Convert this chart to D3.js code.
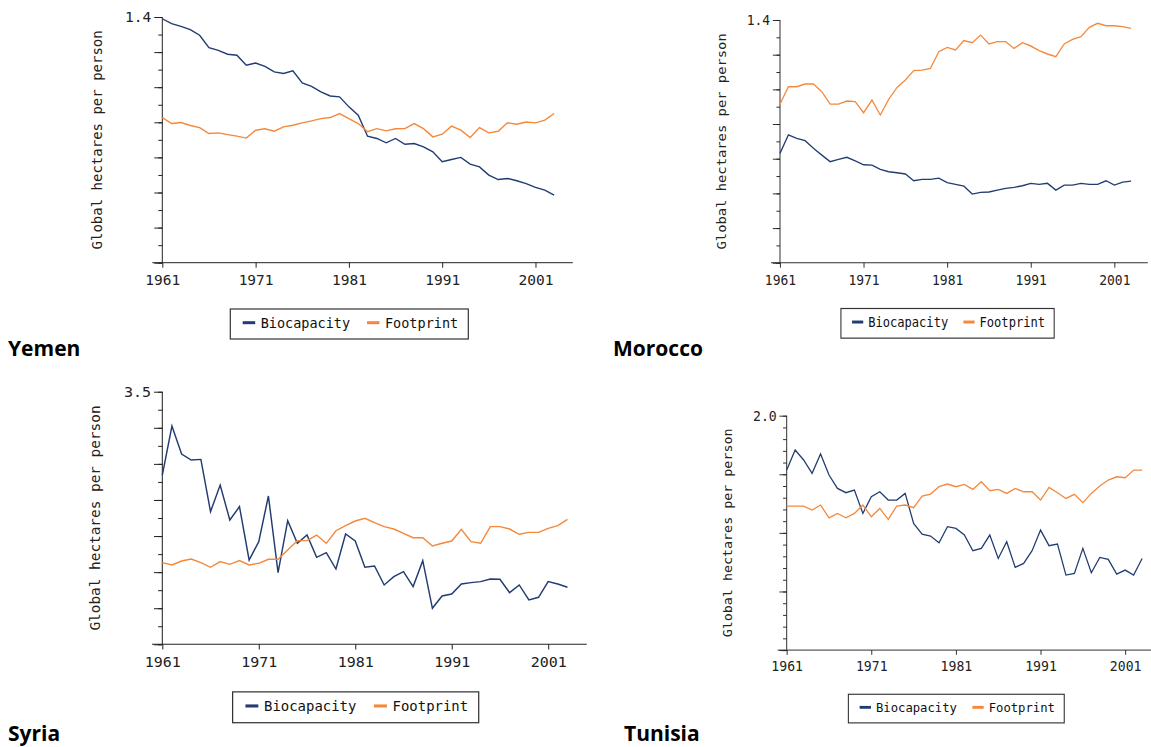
<!DOCTYPE html>
<html>
<head>
<meta charset="utf-8">
<script src="https://cdn.jsdelivr.net/npm/d3@7"></script>
<style>
body { margin: 0; background: #fff; }
</style>
</head>
<body>
<script>

// years on the x axis
var years = [1961,1962,1963,1964,1965,1966,1967,1968,1969,1970,
             1971,1972,1973,1974,1975,1976,1977,1978,1979,1980,
             1981,1982,1983,1984,1985,1986,1987,1988,1989,1990,
             1991,1992,1993,1994,1995,1996,1997,1998,1999,2000,
             2001,2002,2003];
var xTicks = [1961, 1971, 1981, 1991, 2001];

var countries = ["Yemen", "Morocco", "Syria", "Tunisia"];
var yMax = [1.4, 1.4, 3.5, 2.0];
var yLabels = ["1.4", "1.4", "3.5", "2.0"];
var minorStep = [0.1, 0.1, 0.25, 0.1];
var majorStep = [0.2, 0.2, 0.5, 0.5];
var seriesNames = ["Biocapacity", "Footprint"];

// global hectares per person
var yemenBio = [1.39,1.362,1.347,1.328,1.296,1.225,1.21,1.188,1.182,1.125,
                1.138,1.119,1.087,1.078,1.093,1.024,1.005,0.973,0.95,0.945,
                0.888,0.84,0.721,0.708,0.683,0.708,0.675,0.679,0.66,0.632,
                0.575,0.588,0.6,0.562,0.546,0.499,0.474,0.48,0.467,0.451,
                0.429,0.414,0.385];
var yemenFoot = [0.827,0.793,0.799,0.782,0.77,0.736,0.74,0.73,0.721,0.71,
                 0.755,0.763,0.749,0.774,0.783,0.797,0.808,0.821,0.827,0.85,
                 0.821,0.793,0.746,0.764,0.751,0.763,0.764,0.793,0.764,0.717,
                 0.732,0.778,0.755,0.713,0.77,0.74,0.749,0.797,0.789,0.802,
                 0.797,0.812,0.85];

var moroccoBio = [0.631,0.737,0.717,0.704,0.66,0.621,0.583,0.596,0.608,0.587,
                  0.565,0.563,0.538,0.525,0.519,0.512,0.473,0.481,0.481,0.488,
                  0.462,0.452,0.442,0.396,0.406,0.408,0.419,0.429,0.435,0.444,
                  0.458,0.452,0.458,0.419,0.448,0.448,0.458,0.452,0.452,0.473,
                  0.448,0.465,0.471];
var moroccoFoot = [0.915,1.015,1.015,1.031,1.031,0.987,0.915,0.915,0.933,0.929,
                   0.865,0.938,0.852,0.942,1.011,1.054,1.108,1.111,1.121,1.217,
                   1.242,1.227,1.281,1.269,1.313,1.262,1.275,1.275,1.236,1.269,
                   1.25,1.223,1.204,1.188,1.262,1.288,1.304,1.358,1.381,1.367,
                   1.367,1.362,1.352];

var syriaBio = [2.345,3.024,2.636,2.553,2.562,1.838,2.207,1.722,1.907,1.168,
                1.422,2.055,0.993,1.713,1.399,1.514,1.205,1.27,1.043,1.528,
                1.431,1.067,1.085,0.822,0.937,1.006,0.799,1.159,0.499,0.669,
                0.697,0.836,0.854,0.868,0.905,0.9,0.716,0.822,0.614,0.651,
                0.868,0.836,0.79];
var syriaFoot = [1.131,1.099,1.154,1.182,1.131,1.067,1.145,1.108,1.159,1.099,
                 1.122,1.177,1.177,1.307,1.436,1.436,1.514,1.399,1.574,1.644,
                 1.708,1.745,1.685,1.63,1.597,1.537,1.477,1.477,1.362,1.399,
                 1.431,1.593,1.422,1.399,1.63,1.63,1.597,1.524,1.551,1.551,
                 1.607,1.644,1.731];

var tunisiaBio = [1.536,1.707,1.622,1.508,1.673,1.494,1.38,1.343,1.366,1.166,
                  1.309,1.351,1.28,1.28,1.337,1.081,0.99,0.973,0.916,1.053,
                  1.038,0.982,0.848,0.868,0.982,0.782,0.925,0.706,0.74,0.848,
                  1.024,0.891,0.905,0.64,0.654,0.868,0.66,0.791,0.774,0.649,
                  0.683,0.64,0.782];
var tunisiaFoot = [1.229,1.229,1.229,1.195,1.238,1.129,1.166,1.129,1.166,1.238,
                   1.138,1.209,1.115,1.229,1.238,1.215,1.314,1.331,1.394,1.417,
                   1.394,1.414,1.371,1.437,1.36,1.371,1.337,1.38,1.351,1.351,
                   1.28,1.388,1.343,1.294,1.329,1.258,1.337,1.4,1.451,1.479,
                   1.471,1.536,1.536];

var bioData = [yemenBio, moroccoBio, syriaBio, tunisiaBio];
var footData = [yemenFoot, moroccoFoot, syriaFoot, tunisiaFoot];

var colors = ["#213c70", "#f5883a"];

// each panel is the same chart drawn at a slightly different size
var layout = [
    {ox: 162.3, oy: 17,    sx: 1.0,   sy: 1.0,   tx: 8,   ty: 356},
    {ox: 780,   oy: 20,    sx: 0.896, sy: 0.988, tx: 613, ty: 356},
    {ox: 162.3, oy: 391.7, sx: 1.034, sy: 1.028, tx: 8,   ty: 741},
    {ox: 786.7, oy: 415.7, sx: 0.907, sy: 0.954, tx: 624, ty: 741}
];

var width = 410.5;   // 1961 -> 2005
var height = 245.7;

var svg = d3.select("body")
            .append("svg")
            .attr("width", 1151)
            .attr("height", 747);

countries.forEach(function(name, i){

    var p = layout[i];
    var g = svg.append("g")
               .attr("transform", "translate(" + p.ox + "," + p.oy + ") scale(" + p.sx + "," + p.sy + ")");

    var xScale = d3.scaleLinear()
                   .domain([1961, 2005])
                   .range([0, width]);

    var yScale = d3.scaleLinear()
                   .domain([0, yMax[i]])
                   .range([height, 0]);

    var nMinor = Math.round(yMax[i] / minorStep[i]);
    var minor = d3.range(nMinor + 1).map(function(k){ return k * minorStep[i]; });
    var nMajor = Math.round(yMax[i] / majorStep[i]);
    var major = d3.range(nMajor + 1).map(function(k){ return k * majorStep[i]; });

    // minor y ticks
    g.append("g")
     .attr("class", "axis")
     .call(d3.axisLeft(yScale).tickValues(minor).tickSize(4).tickFormat(""))
     .call(function(a){ a.select(".domain").remove(); });

    // major y ticks, only the top one labelled
    g.append("g")
     .attr("class", "axis")
     .call(d3.axisLeft(yScale).tickValues(major).tickSize(8).tickPadding(3)
             .tickFormat(function(d, k){ return k == nMajor ? yLabels[i] : ""; }))
     .call(function(a){ a.select(".domain").remove(); });

    // x axis
    g.append("g")
     .attr("class", "axis")
     .attr("transform", "translate(0," + height + ")")
     .call(d3.axisBottom(xScale).tickValues(xTicks).tickSize(5).tickPadding(7).tickFormat(d3.format("d")))
     .call(function(a){ a.select(".domain").remove(); });

    g.append("line")
     .attr("x1", 0).attr("y1", 0)
     .attr("x2", 0).attr("y2", height)
     .attr("stroke", "#222");

    g.append("line")
     .attr("x1", -10).attr("y1", height)
     .attr("x2", width).attr("y2", height)
     .attr("stroke", "#222");

    g.selectAll(".axis line").attr("stroke", "#222");
    g.selectAll(".axis text")
     .attr("fill", "#222")
     .style("font-family", "DejaVu Sans Mono")
     .style("font-size", "14.5px");

    // y axis title
    g.append("text")
     .attr("transform", "translate(-60," + (height / 2) + ") rotate(-90)")
     .attr("text-anchor", "middle")
     .attr("fill", "#222")
     .style("font-family", "DejaVu Sans Mono")
     .style("font-size", "14px")
     .text("Global hectares per person");

    var line = d3.line()
                 .x(function(d, k){ return xScale(years[k]); })
                 .y(function(d){ return yScale(d); });

    [bioData[i], footData[i]].forEach(function(series, s){
        g.append("path")
         .datum(series)
         .attr("fill", "none")
         .attr("stroke", colors[s])
         .attr("stroke-width", 1.4)
         .attr("d", line);
    });

    // legend
    var leg = g.append("g").attr("transform", "translate(68,292)");
    leg.append("rect")
       .attr("width", 238)
       .attr("height", 30)
       .attr("fill", "#fff")
       .attr("stroke", "#333")
       .attr("stroke-width", 1.2);

    var legX = [12.4, 136.7];
    seriesNames.forEach(function(n, s){
        leg.append("line")
           .attr("x1", legX[s]).attr("x2", legX[s] + 12.5)
           .attr("y1", 13.7).attr("y2", 13.7)
           .attr("stroke", colors[s])
           .attr("stroke-width", 3);
        leg.append("text")
           .attr("x", legX[s] + 18)
           .attr("y", 19)
           .attr("fill", "#111")
           .style("font-family", "DejaVu Sans Mono")
           .style("font-size", "13.5px")
           .text(n);
    });

    // country title
    svg.append("text")
       .attr("x", p.tx)
       .attr("y", p.ty)
       .attr("fill", "#000")
       .style("font-family", "Open Sans")
       .style("font-weight", "bold")
       .style("font-size", "21px")
       .text(name);
});

</script>
</body>
</html>
